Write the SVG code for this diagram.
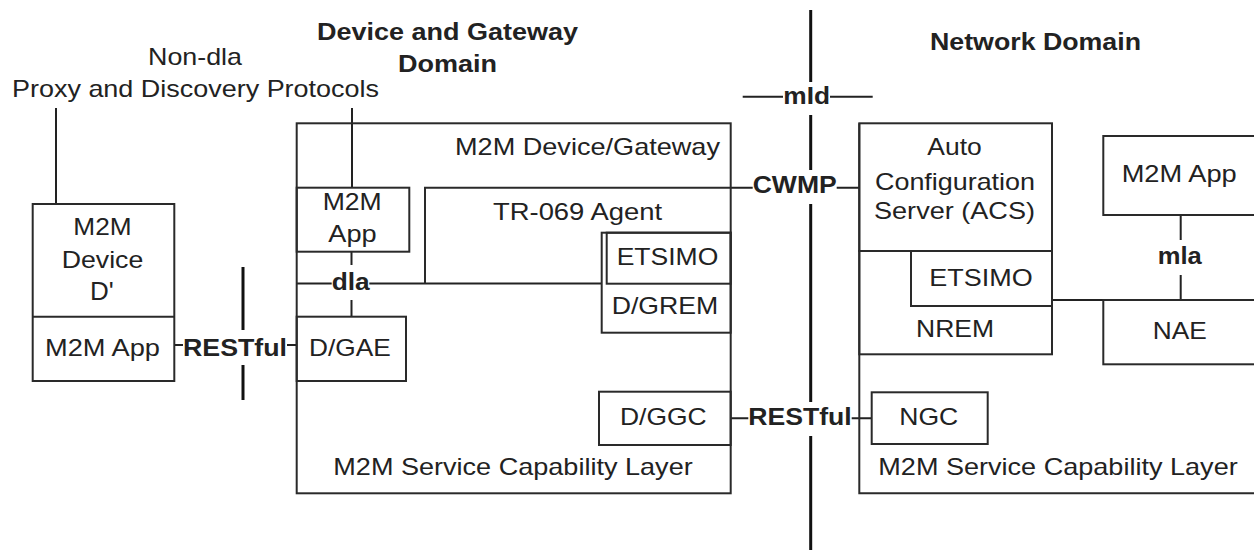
<svg xmlns="http://www.w3.org/2000/svg" width="1254" height="554" viewBox="0 0 1254 554">
<style>
text{font-family:"Liberation Sans",Arial,sans-serif;font-size:24px;fill:#222}
.b{font-weight:bold}
.box{fill:none;stroke:#2a2a2a;stroke-width:2}
.ln{fill:none;stroke:#222;stroke-width:2}
.thick{fill:none;stroke:#111;stroke-width:3}
</style>
<rect width="1254" height="554" fill="#fff"/>
<g id="titles">
<text x="148" y="65" textLength="94" lengthAdjust="spacingAndGlyphs">Non-dla</text>
<text x="12" y="97" textLength="367" lengthAdjust="spacingAndGlyphs">Proxy and Discovery Protocols</text>
<text class="b" x="317" y="40" textLength="261" lengthAdjust="spacingAndGlyphs">Device and Gateway</text>
<text class="b" x="398" y="72" textLength="99" lengthAdjust="spacingAndGlyphs">Domain</text>
<text class="b" x="930" y="50" textLength="211" lengthAdjust="spacingAndGlyphs">Network Domain</text>
</g>
<g id="connectors">
<line class="ln" x1="56" y1="108" x2="56" y2="204"/>
<line class="ln" x1="352" y1="108" x2="352" y2="188"/>
<path class="thick" d="M810.7,10V82M810.7,115V170M810.7,204V402M810.7,436V550"/>
<path class="ln" d="M742.7,96.7H783M830,96.7H872.7"/>
<text class="b" x="783.3" y="104" textLength="46.7" lengthAdjust="spacingAndGlyphs">mId</text>
<path class="ln" d="M730.7,187.7H752.7M836.7,187.7H859.3"/>
<text class="b" x="752.7" y="193.3" textLength="84" lengthAdjust="spacingAndGlyphs">CWMP</text>
<path class="ln" d="M296.7,283.5H331.7M369.3,283.5H601.7M351.5,251.7V265M351.5,300V316.7"/>
<text class="b" x="331.7" y="290" textLength="38" lengthAdjust="spacingAndGlyphs">dla</text>
<path class="ln" d="M174.3,345H183M287,345H296.7"/>
<path class="thick" d="M243,267V330M243,365V400"/>
<text class="b" x="183" y="355.7" textLength="104" lengthAdjust="spacingAndGlyphs">RESTful</text>
<path class="ln" d="M730.7,418.3H748.3M851.7,418.3H871.7"/>
<text class="b" x="748.3" y="425" textLength="103.4" lengthAdjust="spacingAndGlyphs">RESTful</text>
<path class="ln" d="M1180.7,215V240M1180.7,275V300"/>
<text class="b" x="1157.7" y="264" textLength="44" lengthAdjust="spacingAndGlyphs">mla</text>
<line class="ln" x1="1052" y1="300" x2="1103.3" y2="300"/>
</g>
<g id="device-d">
<rect class="box" x="32.7" y="204" width="141.6" height="177"/>
<line class="box" x1="32.7" y1="316.7" x2="174.3" y2="316.7"/>
<text x="73.3" y="235" textLength="58.3" lengthAdjust="spacingAndGlyphs">M2M</text>
<text x="61.7" y="268" textLength="81.6" lengthAdjust="spacingAndGlyphs">Device</text>
<text x="90" y="300" style="font-size:26px">D'</text>
</g>
<g id="device-app">
<text x="45" y="355.7" textLength="115" lengthAdjust="spacingAndGlyphs">M2M App</text>
</g>
<g id="gateway">
<rect class="box" x="296.7" y="123.3" width="434" height="370"/>
<text x="455" y="155" textLength="265" lengthAdjust="spacingAndGlyphs">M2M Device/Gateway</text>
<text x="333.3" y="475" textLength="359.4" lengthAdjust="spacingAndGlyphs">M2M Service Capability Layer</text>
</g>
<g id="gw-app">
<rect class="box" x="296.7" y="187.7" width="112.6" height="64"/>
<text x="322.7" y="210" textLength="59" lengthAdjust="spacingAndGlyphs">M2M</text>
<text x="328.3" y="241.7" textLength="48.3" lengthAdjust="spacingAndGlyphs">App</text>
</g>
<g id="tr069">
<path class="box" d="M425,283.5V187.7H730.7"/>
<text x="493" y="220" textLength="169" lengthAdjust="spacingAndGlyphs">TR-069 Agent</text>
</g>
<g id="dgrem">
<rect class="box" x="601.7" y="232.7" width="129" height="100"/>
<text x="611.7" y="313.5" textLength="106.6" lengthAdjust="spacingAndGlyphs">D/GREM</text>
</g>
<g id="gw-etsimo">
<rect class="box" x="606.7" y="232.7" width="124" height="51"/>
<text x="616.7" y="265" textLength="101.6" lengthAdjust="spacingAndGlyphs">ETSIMO</text>
</g>
<g id="dgae">
<rect class="box" x="296.7" y="316.7" width="109.3" height="64.3"/>
<text x="309" y="355.7" textLength="81.7" lengthAdjust="spacingAndGlyphs">D/GAE</text>
</g>
<g id="dggc">
<rect class="box" x="599" y="391.7" width="131.7" height="53.3"/>
<text x="620" y="425" textLength="86.7" lengthAdjust="spacingAndGlyphs">D/GGC</text>
</g>
<g id="network-scl">
<path class="box" d="M1260,493.3H859.3V123.3"/>
<text x="878.3" y="475" textLength="359.4" lengthAdjust="spacingAndGlyphs">M2M Service Capability Layer</text>
</g>
<g id="acs">
<rect class="box" x="859.3" y="123.3" width="192.7" height="127.7"/>
<text x="927.3" y="155" textLength="54.4" lengthAdjust="spacingAndGlyphs">Auto</text>
<text x="875" y="190" textLength="160" lengthAdjust="spacingAndGlyphs">Configuration</text>
<text x="874" y="219" textLength="161" lengthAdjust="spacingAndGlyphs">Server (ACS)</text>
</g>
<g id="nrem">
<rect class="box" x="859.3" y="251" width="192.7" height="103.3"/>
<text x="916" y="336.7" textLength="78" lengthAdjust="spacingAndGlyphs">NREM</text>
</g>
<g id="nw-etsimo">
<rect class="box" x="911" y="251" width="141" height="55"/>
<text x="929.3" y="286" textLength="103.4" lengthAdjust="spacingAndGlyphs">ETSIMO</text>
</g>
<g id="nw-app">
<rect class="box" x="1103.3" y="136" width="160" height="79"/>
<text x="1121.7" y="181.7" textLength="115" lengthAdjust="spacingAndGlyphs">M2M App</text>
</g>
<g id="nae">
<rect class="box" x="1103.3" y="300" width="160" height="64.3"/>
<text x="1152.7" y="339.3" textLength="54" lengthAdjust="spacingAndGlyphs">NAE</text>
</g>
<g id="ngc">
<rect class="box" x="871.7" y="392.3" width="116" height="51.7"/>
<text x="899.3" y="425" textLength="59" lengthAdjust="spacingAndGlyphs">NGC</text>
</g>
</svg>
